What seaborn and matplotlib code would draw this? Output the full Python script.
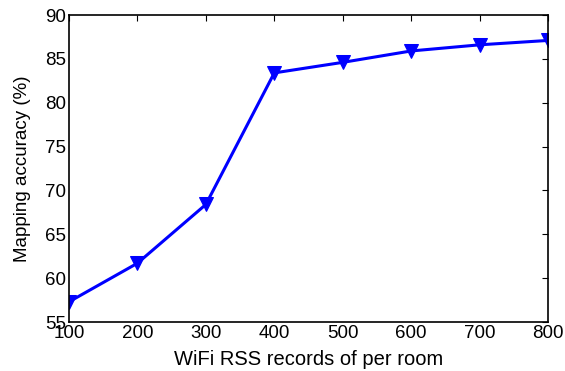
import numpy as np
import matplotlib
matplotlib.use("Agg")
import matplotlib.pyplot as plt
import seaborn as sns
import pandas as pd

# data
records = [100, 200, 300, 400, 500, 600, 700, 800]
accuracy = [57.3, 61.7, 68.4, 83.4, 84.6, 85.9, 86.6, 87.1]

df = pd.DataFrame({"records": records, "accuracy": accuracy})

sns.set_style("white")
plt.rcParams['font.family'] = ['Liberation Sans', 'DejaVu Sans']

fig = plt.figure(figsize=(5.65, 3.71), dpi=100)
ax = fig.add_axes([69 / 565, 1 - 322 / 371, (548 - 69) / 565, (322 - 15) / 371])
sns.lineplot(
  data=df,
  x="records",
  y="accuracy",
  color="#0000ff",
  linewidth=2.2,
  marker="v",
  markersize=10,
  markeredgecolor="#0000ff",
  ax=ax
)
ax.set_xlim(100, 800)
ax.set_ylim(55, 90)
ax.set_xticks(np.arange(100, 801, 100))
ax.set_yticks(np.arange(55, 91, 5))
ax.tick_params(direction="in", top=True, right=True, labelsize=13.5,
               length=4, width=0.8, colors="black", labelcolor="black", pad=2)
for s in ax.spines.values():
  s.set_visible(True)
  s.set_color("black")
  s.set_linewidth(1.2)
ax.set_xlabel("WiFi RSS records of per room", fontsize=14.5, color="black", labelpad=6)
ax.set_ylabel("Mapping accuracy (%)", fontsize=13.5, color="black", labelpad=10)

plt.savefig("out.png", dpi=100)
